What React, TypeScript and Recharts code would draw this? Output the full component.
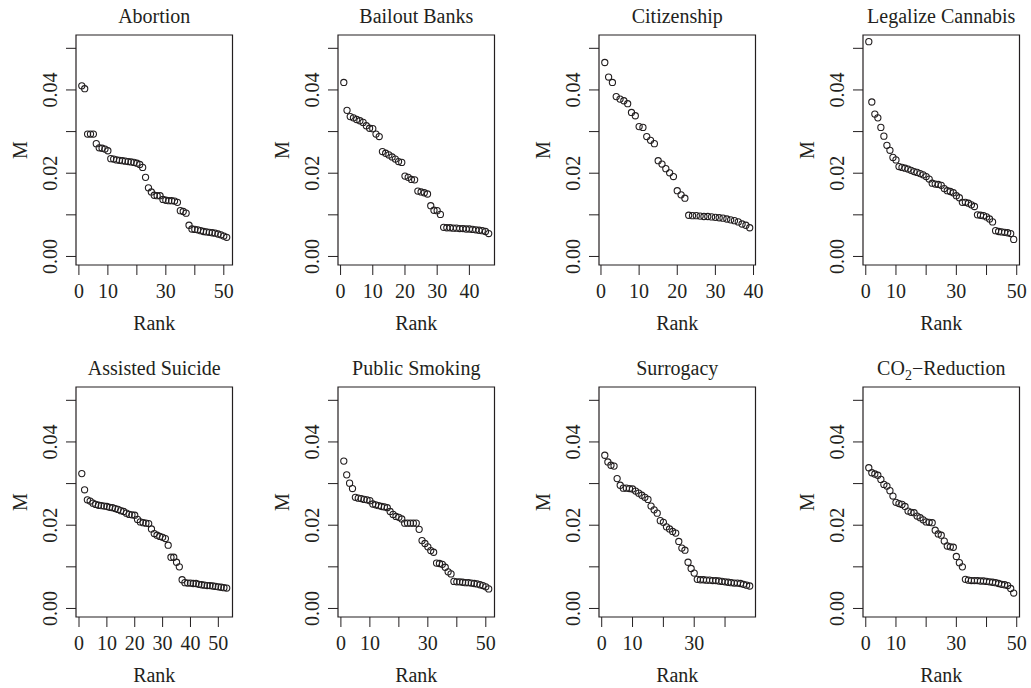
import React from 'react';
import { ScatterChart, Scatter, XAxis, YAxis, ReferenceArea } from 'recharts';

const INK = '#231f20';
const FONT = '"Liberation Serif", "Times New Roman", Times, serif';
const FS = 20;

// ---- data (M by rank) ----
const abortion = [
  0.0410, 0.0403, 0.0294, 0.0294, 0.0294, 0.0271, 0.0261, 0.0260, 0.0258, 0.0254,
  0.0235, 0.0234, 0.0232, 0.0231, 0.0230, 0.0229, 0.0228, 0.0227, 0.0226, 0.0224,
  0.0221, 0.0214, 0.0190, 0.0165, 0.0155, 0.0147, 0.0146, 0.0146, 0.0137, 0.0135,
  0.0134, 0.0134, 0.0133, 0.0130, 0.0110, 0.0108, 0.0104, 0.0075, 0.0066, 0.0065,
  0.0064, 0.0062, 0.0060, 0.0059, 0.0058, 0.0057, 0.0056, 0.0054, 0.0052, 0.0049,
  0.0046,
];
const bailoutBanks = [
  0.0418, 0.0351, 0.0336, 0.0333, 0.0329, 0.0326, 0.0322, 0.0314, 0.0308, 0.0307,
  0.0294, 0.0288, 0.0252, 0.0248, 0.0244, 0.0239, 0.0234, 0.0228, 0.0226, 0.0193,
  0.0190, 0.0185, 0.0184, 0.0157, 0.0155, 0.0153, 0.0150, 0.0122, 0.0111, 0.0110,
  0.0101, 0.0070, 0.0069, 0.0069, 0.0068, 0.0068, 0.0067, 0.0067, 0.0066, 0.0066,
  0.0065, 0.0064, 0.0063, 0.0062, 0.0060, 0.0055,
];
const citizenship = [
  0.0466, 0.0431, 0.0418, 0.0384, 0.0378, 0.0374, 0.0367, 0.0346, 0.0338, 0.0312,
  0.0310, 0.0288, 0.0279, 0.0271, 0.0230, 0.0222, 0.0211, 0.0201, 0.0192, 0.0158,
  0.0148, 0.0140, 0.0099, 0.0098, 0.0098, 0.0097, 0.0096, 0.0096, 0.0095, 0.0094,
  0.0093, 0.0092, 0.0090, 0.0088, 0.0086, 0.0083, 0.0078, 0.0075, 0.0069,
];
const legalizeCannabis = [
  0.0516, 0.0371, 0.0342, 0.0333, 0.0310, 0.0289, 0.0267, 0.0255, 0.0238, 0.0232,
  0.0216, 0.0214, 0.0212, 0.0210, 0.0207, 0.0204, 0.0202, 0.0199, 0.0196, 0.0192,
  0.0186, 0.0176, 0.0174, 0.0173, 0.0171, 0.0163, 0.0158, 0.0156, 0.0153, 0.0146,
  0.0141, 0.0130, 0.0130, 0.0128, 0.0124, 0.0120, 0.0100, 0.0099, 0.0098, 0.0095,
  0.0090, 0.0083, 0.0062, 0.0060, 0.0059, 0.0058, 0.0057, 0.0055, 0.0041,
];
const assistedSuicide = [
  0.0324, 0.0285, 0.0261, 0.0258, 0.0253, 0.0250, 0.0248, 0.0247, 0.0246, 0.0245,
  0.0243, 0.0242, 0.0240, 0.0238, 0.0235, 0.0233, 0.0229, 0.0226, 0.0225, 0.0224,
  0.0214, 0.0208, 0.0206, 0.0205, 0.0204, 0.0191, 0.0180, 0.0176, 0.0173, 0.0171,
  0.0168, 0.0152, 0.0123, 0.0123, 0.0111, 0.0100, 0.0069, 0.0062, 0.0061, 0.0061,
  0.0060, 0.0060, 0.0058, 0.0057, 0.0056, 0.0055, 0.0055, 0.0054, 0.0053, 0.0052,
  0.0051, 0.0050, 0.0049,
];
const publicSmoking = [
  0.0354, 0.0321, 0.0301, 0.0288, 0.0267, 0.0265, 0.0264, 0.0262, 0.0261, 0.0259,
  0.0251, 0.0249, 0.0247, 0.0245, 0.0244, 0.0242, 0.0233, 0.0226, 0.0221, 0.0219,
  0.0215, 0.0205, 0.0205, 0.0205, 0.0205, 0.0205, 0.0190, 0.0163, 0.0156, 0.0148,
  0.0139, 0.0135, 0.0109, 0.0108, 0.0106, 0.0099, 0.0088, 0.0083, 0.0065, 0.0064,
  0.0064, 0.0063, 0.0062, 0.0062, 0.0061, 0.0060, 0.0059, 0.0057, 0.0055, 0.0052,
  0.0047,
];
const surrogacy = [
  0.0368, 0.0352, 0.0344, 0.0342, 0.0312, 0.0296, 0.0289, 0.0289, 0.0288, 0.0287,
  0.0282, 0.0277, 0.0272, 0.0267, 0.0262, 0.0246, 0.0237, 0.0229, 0.0211, 0.0207,
  0.0196, 0.0191, 0.0185, 0.0181, 0.0161, 0.0145, 0.0140, 0.0111, 0.0096, 0.0085,
  0.0070, 0.0069, 0.0069, 0.0068, 0.0068, 0.0067, 0.0067, 0.0066, 0.0065, 0.0064,
  0.0063, 0.0062, 0.0061, 0.0061, 0.0060, 0.0058, 0.0056, 0.0054,
];
const co2Reduction = [
  0.0338, 0.0326, 0.0323, 0.0320, 0.0310, 0.0298, 0.0294, 0.0283, 0.0270, 0.0255,
  0.0252, 0.0250, 0.0245, 0.0234, 0.0231, 0.0230, 0.0222, 0.0218, 0.0213, 0.0208,
  0.0207, 0.0206, 0.0188, 0.0179, 0.0176, 0.0162, 0.0150, 0.0148, 0.0147, 0.0125,
  0.0110, 0.0100, 0.0070, 0.0068, 0.0067, 0.0067, 0.0067, 0.0066, 0.0066, 0.0065,
  0.0064, 0.0063, 0.0062, 0.0060, 0.0058, 0.0057, 0.0055, 0.0048, 0.0037,
];

const TITLES = [
  'Abortion', 'Bailout Banks', 'Citizenship', 'Legalize Cannabis',
  'Assisted Suicide', 'Public Smoking', 'Surrogacy', 'CO2-Reduction',
];
const SERIES = [
  abortion, bailoutBanks, citizenship, legalizeCannabis,
  assistedSuicide, publicSmoking, surrogacy, co2Reduction,
];
const X_TICKS_40 = [0, 10, 20, 30, 40];
const X_TICKS_50 = [0, 10, 20, 30, 40, 50];
const X_TICKS = [X_TICKS_50, X_TICKS_40, X_TICKS_40, X_TICKS_50, X_TICKS_50, X_TICKS_50, X_TICKS_40, X_TICKS_50];
const X_LABELS_SHOWN = [
  [0, 10, 30, 50], [0, 10, 20, 30, 40], [0, 10, 20, 30, 40], [0, 10, 30, 50],
  [0, 10, 20, 30, 40, 50], [0, 10, 30, 50], [0, 10, 30], [0, 10, 30, 50],
];
const Y_TICKS = [0, 0.01, 0.02, 0.03, 0.04, 0.05];
const Y_LABELS_SHOWN = [0, 0.02, 0.04];
const Y_MIN = -0.00205;
const Y_MAX = 0.0532;

// ---- layout ----
const BOX_LEFTS = [76, 338.3, 599, 863.3];
const BOX_TOPS = [35, 387.3];
const BOX_W = 156.5;
const BOX_H = 230;
const PAD_L = 76;
const PAD_T = 35;
const CHART_W = 244;
const CHART_H = 336;
const X_AXIS_H = 40;
const Y_AXIS_W = 40;

const textStyle = { fontFamily: FONT, fontSize: FS, fill: INK };

function renderTitle(title: string) {
  const cx = PAD_L + BOX_W / 2;
  const y = PAD_T - 12;
  if (title === 'CO2-Reduction') {
    return (
      <text x={cx} y={y} textAnchor="middle" style={textStyle}>
        <tspan>CO</tspan>
        <tspan dy={5} fontSize={14}>2</tspan>
        <tspan dy={-5}>{'\u2212Reduction'}</tspan>
      </text>
    );
  }
  return (
    <text x={cx} y={y} textAnchor="middle" style={textStyle}>{title}</text>
  );
}

function Panel({ idx }: { idx: number }) {
  const values = SERIES[idx];
  const n = values.length;
  const data = values.map((m, i) => ({ rank: i + 1, m }));
  const ext = 0.04 * (n - 1);
  const xMin = 1 - ext;
  const xMax = n + ext;
  const col = idx % 4;
  const row = Math.floor(idx / 4);
  const left = BOX_LEFTS[col] - PAD_L;
  const top = BOX_TOPS[row] - PAD_T;
  const rightMargin = CHART_W - PAD_L - BOX_W;
  const bottomMargin = CHART_H - PAD_T - BOX_H - X_AXIS_H;
  const shownX = X_LABELS_SHOWN[idx];
  const boxBottom = PAD_T + BOX_H;

  const xTick = (props: any) => {
    const v = props.payload?.value;
    if (!shownX.includes(v)) return <g />;
    return (
      <text x={props.x} y={boxBottom + 33} textAnchor="middle" style={textStyle}>{String(v)}</text>
    );
  };
  const yTick = (props: any) => {
    const v = props.payload?.value;
    if (!Y_LABELS_SHOWN.some((s) => Math.abs(s - v) < 1e-9)) return <g />;
    const x = PAD_L - 19;
    return (
      <text x={x} y={props.y} textAnchor="middle" transform={`rotate(-90, ${x}, ${props.y})`} style={textStyle}>
        {Number(v).toFixed(2)}
      </text>
    );
  };
  const xLabel = () => (
    <text x={PAD_L + BOX_W / 2} y={boxBottom + 65} textAnchor="middle" style={textStyle}>Rank</text>
  );
  const yLabel = () => {
    const x = PAD_L - 49;
    const y = PAD_T + BOX_H / 2;
    return (
      <text x={x} y={y} textAnchor="middle" transform={`rotate(-90, ${x}, ${y})`} style={textStyle}>M</text>
    );
  };
  const dot = (p: any) => (
    <circle cx={p.cx} cy={p.cy} r={3.1} fill="none" stroke={INK} strokeWidth={1.1} />
  );

  return (
    <div style={{ position: 'absolute', left, top, width: CHART_W, height: CHART_H }}>
      <ScatterChart
        width={CHART_W}
        height={CHART_H}
        margin={{ top: PAD_T, right: rightMargin, bottom: bottomMargin, left: PAD_L - Y_AXIS_W }}
      >
        <XAxis
          type="number"
          dataKey="rank"
          domain={[xMin, xMax]}
          ticks={X_TICKS[idx]}
          interval={0}
          allowDataOverflow
          axisLine={false}
          tickLine={{ stroke: INK, strokeWidth: 1 }}
          tickSize={10}
          height={X_AXIS_H}
          tick={xTick}
          label={xLabel}
        />
        <YAxis
          type="number"
          dataKey="m"
          domain={[Y_MIN, Y_MAX]}
          ticks={Y_TICKS}
          interval={0}
          allowDataOverflow
          axisLine={false}
          tickLine={{ stroke: INK, strokeWidth: 1 }}
          tickSize={10}
          width={Y_AXIS_W}
          tick={yTick}
          label={yLabel}
        />
        <ReferenceArea
          x1={xMin}
          x2={xMax}
          y1={Y_MIN}
          y2={Y_MAX}
          fill="none"
          fillOpacity={0}
          stroke={INK}
          strokeWidth={1.2}
          strokeOpacity={1}
          ifOverflow="visible"
          label={() => renderTitle(TITLES[idx])}
        />
        <Scatter data={data} shape={dot} isAnimationActive={false} />
      </ScatterChart>
    </div>
  );
}

export default function App() {
  return (
    <div style={{ position: 'absolute', left: 0, top: 0, width: 1031, height: 688, background: '#fff', overflow: 'hidden' }}>
      {SERIES.map((_, i) => (
        <Panel key={i} idx={i} />
      ))}
    </div>
  );
}
